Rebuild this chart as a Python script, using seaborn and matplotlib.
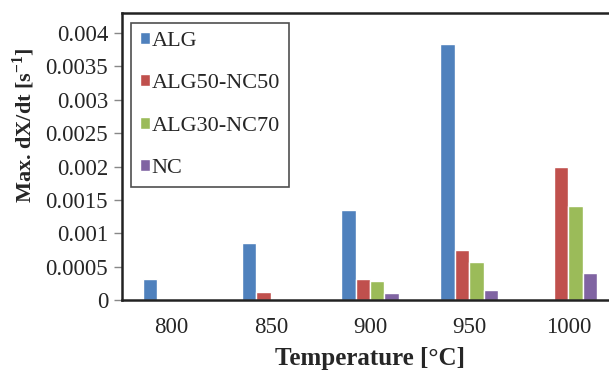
import numpy as np
import pandas as pd
import matplotlib
matplotlib.use("Agg")
import matplotlib.pyplot as plt
import seaborn as sns

temperatures = ["800", "850", "900", "950", "1000"]
samples = ["ALG", "ALG50-NC50", "ALG30-NC70", "NC"]
alg = [0.00031, 0.00085, 0.00135, 0.00383, 0.0]
alg50_nc50 = [0.0, 0.00012, 0.00031, 0.00075, 0.00200]
alg30_nc70 = [0.0, 0.0, 0.00029, 0.00057, 0.00141]
nc = [0.0, 0.0, 0.00010, 0.00015, 0.00040]
colors = ["#4F81BD", "#C0504D", "#9BBB59", "#8064A2"]

rows = []
for name, vals in zip(samples, [alg, alg50_nc50, alg30_nc70, nc]):
    for t, v in zip(temperatures, vals):
        rows.append({"Temperature": t, "value": v, "sample": name})
df = pd.DataFrame(rows)

sns.set_style("white")
plt.rcParams["font.family"] = ["Liberation Serif", "DejaVu Serif"]
plt.rcParams["mathtext.fontset"] = "custom"
plt.rcParams["mathtext.rm"] = "Liberation Serif:bold"
plt.rcParams["mathtext.bf"] = "Liberation Serif:bold"

fig = plt.figure(figsize=(6.09, 3.72), dpi=100)
ax = fig.add_axes([122 / 609, 72 / 372, 496 / 609, 287 / 372])

sns.barplot(data=df, x="Temperature", y="value", hue="sample",
            hue_order=samples, palette=colors, width=0.58,
            saturation=1, ax=ax, legend=True)

ax.set_ylim(0, 0.0043)
ax.set_yticks(np.arange(0, 0.00401, 0.0005))
ax.set_yticklabels(["0", "0.0005", "0.001", "0.0015", "0.002",
                    "0.0025", "0.003", "0.0035", "0.004"])
ax.tick_params(axis="y", which="both", left=True, length=6, width=1,
               color="#888888", labelsize=16.5, direction="out", pad=4)
ax.tick_params(axis="x", bottom=False, labelsize=16.5, pad=9)

for side in ["left", "top", "bottom", "right"]:
    ax.spines[side].set_color("#222222")
    ax.spines[side].set_linewidth(1.8)

ax.set_xlabel("Temperature [°C]", fontsize=18, fontweight="bold", labelpad=6)
ax.set_ylabel("Max. dX/dt [s$^{-1}$]", fontsize=16, fontweight="bold")
ax.yaxis.set_label_coords(-0.172, 0.61)

leg = ax.legend(loc="upper left", bbox_to_anchor=(0.018, 0.965), borderaxespad=0,
                fontsize=16, frameon=True, fancybox=False, handlelength=0.45,
                handleheight=0.45, handletextpad=0.08, labelspacing=1.05,
                borderpad=0.4, edgecolor="#222222")
leg.get_frame().set_linewidth(1.2)

fig.savefig("out.png", dpi=100)
